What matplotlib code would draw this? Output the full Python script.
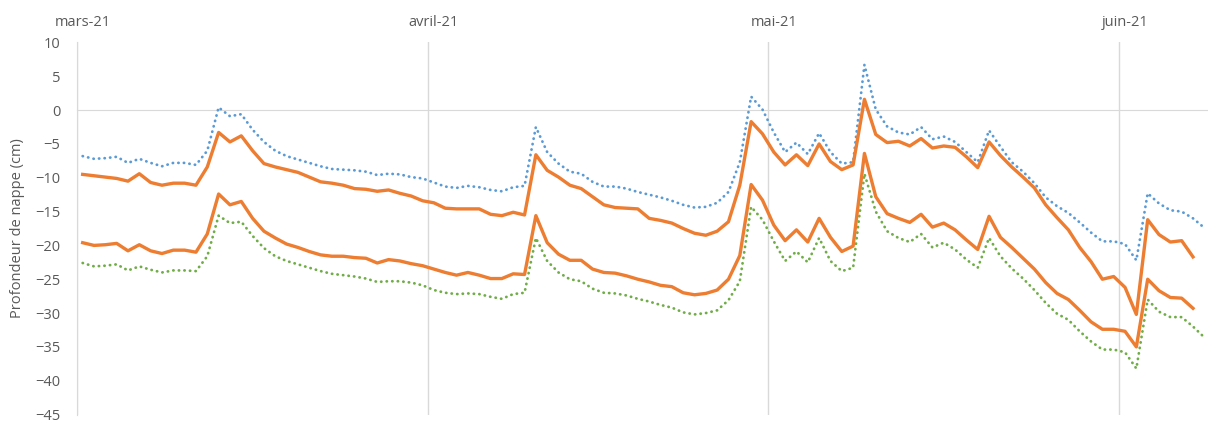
import numpy as np
import pandas as pd
import matplotlib
matplotlib.use("Agg")
import matplotlib.pyplot as plt

# =========================
# DATA (daily values, cm)
# =========================
start = pd.Timestamp("2021-03-01")

prof_haut = [
    -9.5, -9.7, -9.9, -10.1, -10.5, -9.4, -10.7, -11.1, -10.8, -10.8,
    -11.1, -8.4, -3.3, -4.7, -3.8, -6.0, -7.9, -8.4, -8.8, -9.2,
    -9.9, -10.6, -10.8, -11.1, -11.6, -11.7, -12.0, -11.8, -12.3, -12.7,
    -13.4, -13.7, -14.5, -14.6, -14.6, -14.6, -15.4, -15.6, -15.1, -15.5,
    -6.6, -8.9, -9.9, -11.1, -11.6, -12.8, -14.0, -14.4, -14.5, -14.6,
    -16.0, -16.3, -16.7, -17.5, -18.2, -18.5, -17.9, -16.5, -11.1, -1.7,
    -3.5, -6.2, -8.1, -6.6, -8.2, -5.0, -7.6, -8.8, -8.1, 1.6,
    -3.6, -4.8, -4.6, -5.3, -4.2, -5.6, -5.3, -5.5, -6.9, -8.5,
    -4.7, -6.7, -8.4, -9.9, -11.5, -14.0, -15.9, -17.7, -20.3, -22.4,
    -25.0, -24.6, -26.2, -30.2, -16.2, -18.4, -19.5, -19.3, -21.7,
]

prof_bas = [
    -19.6, -20.0, -19.9, -19.7, -20.8, -19.9, -20.8, -21.2, -20.7, -20.7,
    -21.0, -18.3, -12.4, -14.0, -13.5, -16.0, -17.9, -18.9, -19.8, -20.3,
    -20.9, -21.4, -21.6, -21.6, -21.8, -21.9, -22.6, -22.1, -22.3, -22.7,
    -23.0, -23.5, -24.0, -24.4, -24.0, -24.4, -24.9, -24.9, -24.2, -24.3,
    -15.6, -19.6, -21.3, -22.2, -22.2, -23.5, -24.0, -24.1, -24.5, -25.0,
    -25.4, -25.9, -26.1, -27.0, -27.3, -27.1, -26.6, -25.0, -21.5, -11.0,
    -13.3, -17.0, -19.3, -17.7, -19.5, -16.0, -18.8, -20.9, -20.1, -6.4,
    -12.8, -15.3, -16.0, -16.6, -15.4, -17.3, -16.7, -17.7, -19.2, -20.6,
    -15.7, -18.8, -20.3, -21.9, -23.5, -25.5, -27.1, -28.0, -29.6, -31.3,
    -32.4, -32.4, -32.7, -35.0, -25.0, -26.7, -27.7, -27.8, -29.3,
]

borne_haute = [
    -6.8, -7.2, -7.1, -6.9, -7.8, -7.2, -7.8, -8.3, -7.8, -7.8,
    -8.1, -6.0, 0.4, -0.9, -0.6, -2.9, -4.7, -6.0, -6.8, -7.3,
    -7.8, -8.3, -8.7, -8.8, -8.9, -9.1, -9.6, -9.4, -9.5, -9.9,
    -10.1, -10.7, -11.3, -11.5, -11.2, -11.4, -11.8, -12.0, -11.4, -11.2,
    -2.5, -6.2, -7.9, -9.1, -9.4, -10.6, -11.3, -11.3, -11.6, -12.1,
    -12.5, -12.9, -13.4, -14.0, -14.4, -14.3, -13.7, -12.1, -7.7, 2.0,
    0.1, -3.3, -6.2, -4.8, -6.5, -3.4, -6.2, -7.9, -7.7, 6.7,
    0.1, -2.4, -3.3, -3.6, -2.5, -4.3, -3.9, -4.7, -6.2, -7.7,
    -3.0, -5.4, -7.7, -9.1, -10.8, -12.9, -14.2, -15.2, -16.6, -18.1,
    -19.4, -19.4, -19.8, -22.2, -12.3, -13.8, -14.8, -15.0, -16.0, -17.4,
]

borne_basse = [
    -22.6, -23.1, -23.0, -22.8, -23.7, -23.1, -23.6, -24.0, -23.7, -23.7,
    -23.8, -21.6, -15.6, -16.7, -16.5, -18.6, -20.4, -21.6, -22.3, -22.8,
    -23.3, -23.8, -24.2, -24.4, -24.6, -24.9, -25.4, -25.3, -25.3, -25.5,
    -25.9, -26.6, -27.0, -27.2, -27.1, -27.2, -27.6, -27.9, -27.2, -27.0,
    -18.9, -22.3, -24.0, -25.0, -25.3, -26.4, -27.0, -27.1, -27.4, -27.9,
    -28.3, -28.8, -29.2, -29.9, -30.2, -30.0, -29.6, -28.1, -25.3, -14.3,
    -16.2, -19.4, -22.3, -20.9, -22.5, -18.9, -22.3, -23.8, -23.3, -9.4,
    -15.0, -17.9, -18.9, -19.5, -18.3, -20.3, -19.6, -20.6, -22.1, -23.3,
    -18.9, -21.6, -23.4, -24.9, -26.6, -28.5, -30.1, -31.0, -32.7, -34.2,
    -35.4, -35.4, -35.8, -38.2, -28.0, -29.8, -30.6, -30.6, -32.0, -33.6,
]

mois_debut = ["2021-03-01", "2021-04-01", "2021-05-01", "2021-06-01"]
mois_labels = ["mars-21", "avril-21", "mai-21", "juin-21"]

# points sit in the middle of each day slot (Excel date axis)
dates_o = start + pd.to_timedelta(np.arange(len(prof_haut)) + 0.5, unit="D")
dates_d = start + pd.to_timedelta(np.arange(len(borne_haute)) + 0.5, unit="D")

# =========================
# STYLE
# =========================
plt.rcParams['font.family'] = ['Open Sans', 'DejaVu Sans']
grey_txt = "#595959"
grey_line = "#d9d9d9"
orange = "#ED7D31"
blue = "#5B9BD5"
green = "#70AD47"

fig = plt.figure(figsize=(12.08, 4.23), dpi=100)
ax = fig.add_axes([77 / 1208, 8.5 / 423, 1133 / 1208, 372 / 423])

dot_style = (0, (0.1, 1.9))
ax.plot(dates_d, borne_haute, color=blue, lw=2.0, linestyle=dot_style,
        dash_capstyle='round', zorder=3)
ax.plot(dates_d, borne_basse, color=green, lw=2.0, linestyle=dot_style,
        dash_capstyle='round', zorder=3)
ax.plot(dates_o, prof_haut, color=orange, lw=2.4, zorder=4)
ax.plot(dates_o, prof_bas, color=orange, lw=2.4, zorder=4)

# axes limits
ax.set_ylim(-45, 10)
ax.set_yticks(np.arange(-45, 11, 5))
ax.set_xlim(start, start + pd.Timedelta(days=100))

# month gridlines at month starts, labels centred on the first day
month_pos = pd.to_datetime(mois_debut)
ax.set_xticks(month_pos, minor=True)
ax.set_xticks(month_pos + pd.Timedelta(hours=12))
ax.set_xticklabels(mois_labels)
ax.xaxis.set_ticks_position('top')
ax.xaxis.set_label_position('top')
ax.grid(which='minor', axis='x', color=grey_line, lw=1.0)
ax.tick_params(axis='x', which='both', length=0, pad=9, labelsize=10.5,
               labelcolor=grey_txt)
ax.tick_params(axis='y', length=0, pad=12, labelsize=10.5, labelcolor=grey_txt)

# spines: category axis crosses at 0
for s in ['top', 'right']:
    ax.spines[s].set_visible(False)
ax.spines['bottom'].set_position(('data', 0))
ax.spines['bottom'].set_color(grey_line)
ax.spines['left'].set_color(grey_line)
ax.spines['bottom'].set_zorder(1)

ax.set_ylabel("Profondeur de nappe (cm)", fontsize=10.5, color=grey_txt, labelpad=7)

fig.savefig("out.png", dpi=100)
